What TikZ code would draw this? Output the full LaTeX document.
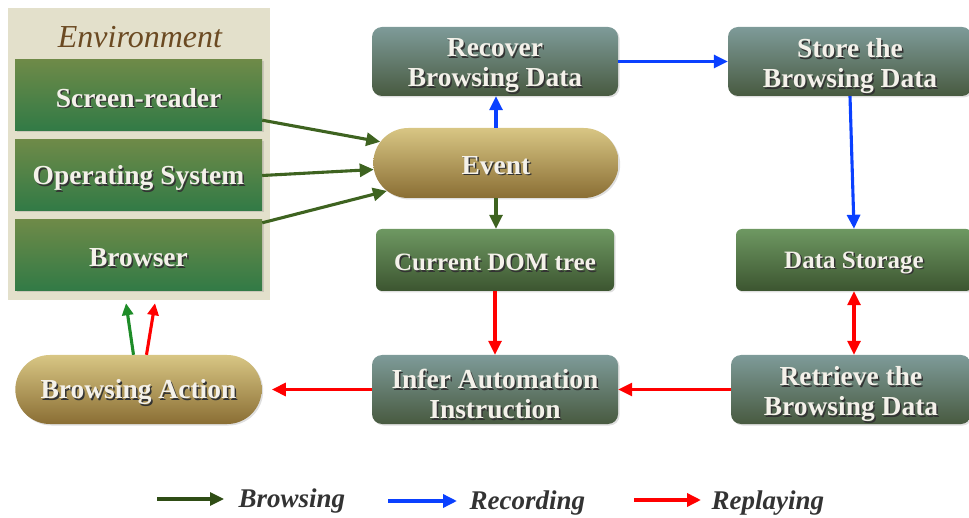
\documentclass[tikz,border=0pt]{standalone}
\usepackage{fontspec}
\setmainfont{Liberation Serif}
\usetikzlibrary{arrows.meta,shapes.misc,shadows}

\definecolor{envbg}{HTML}{E3E0CB}
\definecolor{envtxt}{HTML}{6B4A22}
\definecolor{envtop}{HTML}{6E8A48}
\definecolor{envbot}{HTML}{317A46}
\definecolor{proctop}{HTML}{7E9B99}
\definecolor{procbot}{HTML}{485A40}
\definecolor{pilltop}{HTML}{D8C684}
\definecolor{pillbot}{HTML}{8A6E34}
\definecolor{domtop}{HTML}{6E9862}
\definecolor{dombot}{HTML}{3C5530}
\definecolor{txtwhite}{HTML}{F4F1EA}
\definecolor{flowgreen}{HTML}{3E6320}
\definecolor{actgreen}{HTML}{1E8C28}
\definecolor{legendgreen}{HTML}{2F4D15}
\definecolor{flowblue}{HTML}{0A40FF}
\definecolor{flowred}{HTML}{FF0000}
\definecolor{legtxt}{HTML}{333333}

% white label with a dark shadow behind it, set a little low in its box
\newlength\tshdrop
\setlength\tshdrop{2.5pt}
\newcommand\tsh[1]{\raisebox{-\tshdrop}[\height][\depth]{%
  \makebox[0pt][l]{\smash{\kern1.5pt\raisebox{-1.5pt}{\color{black!80}#1}}}#1}}

\tikzset{
  box/.style={draw=none, minimum width=246pt, minimum height=69pt, align=center,
    text=txtwhite, font=\bfseries\fontsize{27.5}{30}\selectfont,
    drop shadow={opacity=0.25, shadow xshift=1.5pt, shadow yshift=-1.5pt}},
  envbox/.style={box, rectangle, top color=envtop, bottom color=envbot,
    minimum width=247pt, minimum height=71pt},
  procbox/.style={box, rectangle, rounded corners=10pt, top color=proctop, bottom color=procbot,
    execute at begin node={\setlength\tshdrop{4.5pt}}},
  pill/.style={box, rounded rectangle, top color=pilltop, bottom color=pillbot},
  dombox/.style={box, rectangle, rounded corners=6pt, top color=domtop, bottom color=dombot,
    minimum height=62pt, font=\bfseries\fontsize{25}{28}\selectfont},
  arr/.style={line width=3.1pt, -{Triangle[length=14pt,width=13pt]}},
  garr/.style={arr, draw=flowgreen},
  barr/.style={arr, draw=flowblue},
  rarr/.style={arr, draw=flowred},
  legtext/.style={anchor=west, text=legtxt, font=\bfseries\itshape\fontsize{27}{30}\selectfont},
}

\begin{document}
\begin{tikzpicture}[x=1pt, y=-1pt]
\path[use as bounding box] (0,0) rectangle (969,518);

% environment panel
\node[fill=envbg, minimum width=262pt, minimum height=292pt, inner sep=0pt] (env) at (139,154) {};
\node[text=envtxt, font=\itshape\fontsize{32}{36}\selectfont] (envlabel) at (140,37) {Environment};
\node[envbox] (sr) at (138.5,95.5) {\tsh{Screen-reader}};
\node[envbox] (os) at (138.5,175.5) {\tsh{Operating System}};
\node[envbox] (br) at (138.5,255.5) {\tsh{Browser}};

% processing nodes
\node[procbox] (recover) at (495,61.5) {\tsh{Recover}\\\tsh{Browsing Data}};
\node[pill, minimum width=252pt, minimum height=70pt] (event) at (496,163) {\tsh{Event}};
\node[dombox, minimum width=238pt] (dom) at (495,260) {\tsh{Current DOM tree}};
\node[procbox, minimum width=244pt] (store) at (850,61.5) {\tsh{Store the}\\\tsh{Browsing Data}};
\node[dombox, minimum width=236pt] (storage) at (854,260) {\tsh{Data Storage}};
\node[procbox] (infer) at (495,389.5) {\tsh{Infer Automation}\\\tsh{Instruction}};
\node[procbox, minimum width=240pt] (retrieve) at (851,389.5) {\tsh{Retrieve the}\\\tsh{Browsing Data}};
\node[pill, minimum width=253pt] (ba) at (138.5,389.5) {\tsh{Browsing Action}};

% browsing flow
\draw[garr] ([yshift=11pt]sr.south east) -- (event);
\draw[garr] (os.east) -- (event);
\draw[garr] ([yshift=-3pt]br.north east) -- (event);
\draw[garr] (event.south) -- (event.south |- dom.north);

% recording flow
\draw[barr] (event.north) -- (event.north |- recover.south);
\draw[barr] (recover.east) -- (store.west);
\draw[barr] (store.south) -- (storage.north);

% replaying flow
\draw[rarr] (dom.south) -- (dom.south |- infer.north);
\draw[rarr] (retrieve.west) -- (infer.east);
\draw[rarr, shorten >=10pt] (infer.west) -- (ba.east);
\draw[rarr, {Triangle[length=14pt,width=13pt]}-{Triangle[length=14pt,width=13pt]}]
  (storage.south) -- (storage.south |- retrieve.north);

% action back into the environment
\draw[arr, draw=actgreen, -{Triangle[length=12pt,width=11pt]}]
  ([xshift=-5pt]ba.north) -- ([xshift=-13pt,yshift=-3pt]env.south);
\draw[rarr, -{Triangle[length=12pt,width=11pt]}]
  ([xshift=8pt]ba.north) -- ([xshift=16pt,yshift=-3pt]env.south);

% legend
\coordinate (lga) at (157,499);
\coordinate (lgb) at (224,499);
\coordinate (lba) at (388,501);
\coordinate (lbb) at (457,501);
\coordinate (lra) at (634,500);
\coordinate (lrb) at (701,500);
\draw[arr, draw=legendgreen] (lga) -- (lgb);
\draw[arr, draw=flowblue, line width=3.4pt] (lba) -- (lbb);
\draw[arr, draw=flowred, line width=3.4pt] (lra) -- (lrb);
\node[legtext] (lgt) at (235,501) {Browsing};
\node[legtext] (lbt) at (466,503) {Recording};
\node[legtext] (lrt) at (708,503) {Replaying};
\end{tikzpicture}
\end{document}
